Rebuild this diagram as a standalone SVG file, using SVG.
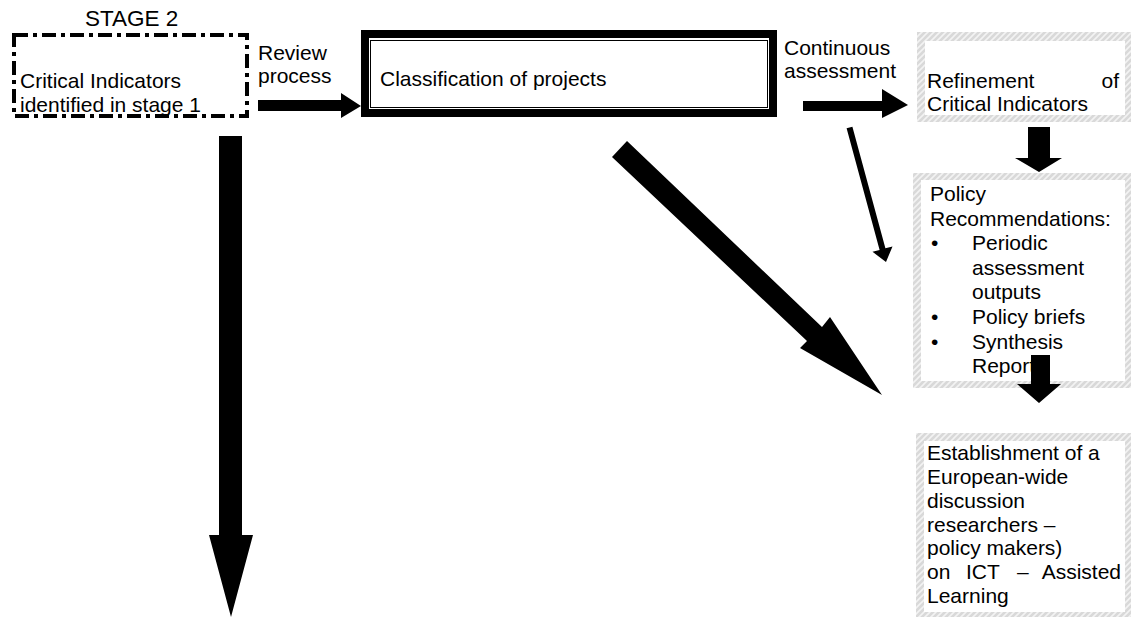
<svg xmlns="http://www.w3.org/2000/svg" width="1131" height="617" viewBox="0 0 1131 617">
<style>
text { font-family: "Liberation Sans", Arial, sans-serif; font-size: 21px; fill: #000; }
.arrow { fill: #000; stroke: none; }
.hatch { fill: url(#hatch); }
.inner { fill: #fff; }
</style>
<defs>
<pattern id="hatch" patternUnits="userSpaceOnUse" width="6" height="6">
<rect width="6" height="6" fill="#d9d9d9"/>
<path d="M-1,7 L7,-1 M-1,1 L1,-1 M5,7 L7,5" stroke="#f3f3f3" stroke-width="1.6"/>
</pattern>
</defs>
<rect width="1131" height="617" fill="#fff"/>

<g id="stage-label">
<text x="85" y="26" style="font-size:22.5px">STAGE 2</text>
</g>

<g id="node-critical">
<rect x="14" y="35" width="233" height="81" fill="none" stroke="#000" stroke-width="4" stroke-dasharray="14,5,4,5"/>
<text x="20" y="88">Critical Indicators</text>
<text x="20" y="112">identified in stage 1</text>
</g>

<g id="node-classification">
<rect x="361" y="30" width="416" height="87" fill="#000"/>
<rect x="369" y="38" width="400" height="71" fill="#fff"/>
<rect x="370.5" y="40.5" width="397" height="67" fill="none" stroke="#000" stroke-width="1"/>
<text x="380" y="86">Classification of projects</text>
</g>

<g id="node-refinement">
<rect class="hatch" x="917" y="32" width="220" height="90"/>
<rect class="inner" x="925" y="41" width="200" height="74"/>
<text x="927" y="88">Refinement</text>
<text x="1119" y="88" text-anchor="end">of</text>
<text x="927" y="111">Critical Indicators</text>
</g>

<g id="node-policy">
<rect class="hatch" x="913" y="173" width="224" height="215"/>
<rect class="inner" x="921" y="180" width="204" height="201"/>
<text x="930" y="201">Policy</text>
<text x="930" y="225.6">Recommendations:</text>
<text x="931" y="250.2">•</text>
<text x="972" y="250.2">Periodic</text>
<text x="972" y="274.8">assessment</text>
<text x="972" y="299.4">outputs</text>
<text x="931" y="324">•</text>
<text x="972" y="324">Policy briefs</text>
<text x="931" y="348.6">•</text>
<text x="972" y="348.6">Synthesis</text>
<text x="972" y="373.2">Report</text>
</g>

<g id="node-establishment">
<rect class="hatch" x="916" y="433" width="221" height="190"/>
<rect class="inner" x="924" y="441" width="201" height="171"/>
<text x="927" y="460">Establishment of a</text>
<text x="927" y="484">European-wide</text>
<text x="927" y="508">discussion</text>
<text x="927" y="532">researchers –</text>
<text x="927" y="555">policy makers)</text>
<text x="927" y="579">on</text>
<text x="966" y="579">ICT</text>
<text x="1017" y="579">–</text>
<text x="1121" y="579" text-anchor="end">Assisted</text>
<text x="927" y="603">Learning</text>
</g>

<g id="labels">
<text x="258" y="60">Review</text>
<text x="258" y="83">process</text>
<text x="784" y="55">Continuous</text>
<text x="784" y="78">assessment</text>
</g>

<g id="connectors">
<polygon class="arrow" points="258,100 341,100 341,93 361,106 341,118 341,111 258,111"/>
<polygon class="arrow" points="803,101 882,101 882,89 908,105 882,118 882,111 803,111"/>
<polygon class="arrow" points="1028,127 1050,127 1050,158 1062,158 1039,172 1015,158 1028,158"/>
<polygon class="arrow" points="1031,355 1050,355 1050,384 1061,384 1039,403 1017,384 1031,384"/>
<polygon class="arrow" points="219,136 242,136 242,535 253,535 231,617 209,535 219,535"/>
<polygon class="arrow" points="627,141 822,327 830,317 882,395 800,348 807,341 612,157"/>
<polygon class="arrow" points="846.6,128.3 852.4,126.7 885.4,248.3 892.5,246.4 886,262 872.5,251.8 879.6,249.9"/>
</g>
</svg>
